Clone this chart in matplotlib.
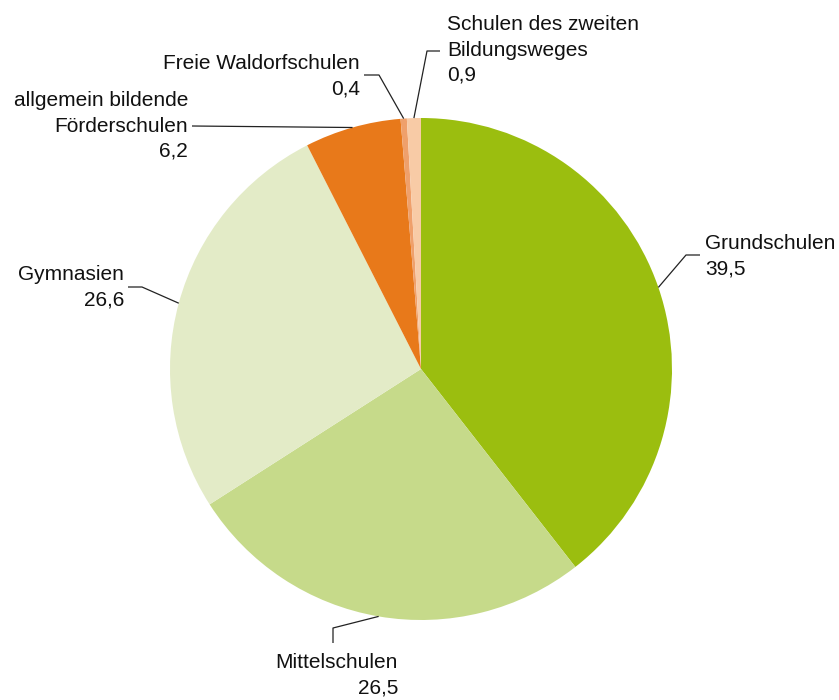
import numpy as np
import matplotlib
matplotlib.use("Agg")
import matplotlib.pyplot as plt

plt.rcParams['font.family'] = ['Liberation Sans', 'DejaVu Sans']

# Anteile in Prozent
labels = ["Grundschulen", "Mittelschulen", "Gymnasien",
          "allgemein bildende\nFörderschulen", "Freie Waldorfschulen",
          "Schulen des zweiten\nBildungsweges"]
values = [39.5, 26.5, 26.6, 6.2, 0.4, 0.9]
value_text = ["39,5", "26,5", "26,6", "6,2", "0,4", "0,9"]
colors = ["#9bbe0f", "#c6da8a", "#e3ebc7", "#e8791a", "#efa06b", "#f8cba6"]

W, H = 839, 700
fig = plt.figure(figsize=(W / 100, H / 100), dpi=100)
ax = fig.add_axes([0, 0, 1, 1])

cx, cy, r = 421, H - 369, 251
wedges, _ = ax.pie(values, colors=colors, startangle=90, counterclock=False,
                   center=(cx, cy), radius=r, frame=True,
                   wedgeprops=dict(linewidth=0))
ax.set_xlim(0, W)
ax.set_ylim(0, H)
ax.set_aspect("equal")
ax.axis("off")

# Beschriftung: (Textpunkt, Ausrichtung, Knickpunkte der Linie) in Pixeln von oben
layout = [
    ((705, 256), "left", [(686, 255), (700, 255)]),
    ((398, 675), "right", [(333, 628), (333, 643)]),
    ((124, 287), "right", [(142, 287), (128, 287)]),
    ((188, 126), "right", [(192, 126)]),
    ((360, 76), "right", [(379, 75), (364, 75)]),
    ((447, 50), "left", [(427, 51), (440, 51)]),
]

for w, lab, val, (pos, ha, pts) in zip(wedges, labels, value_text, layout):
    ang = np.deg2rad((w.theta1 + w.theta2) / 2)
    x0 = cx + r * np.cos(ang)
    y0 = cy + r * np.sin(ang)
    xs = [x0] + [p[0] for p in pts]
    ys = [y0] + [H - p[1] for p in pts]
    ax.plot(xs, ys, color="#222222", lw=0.9, solid_capstyle="butt")
    ax.text(pos[0], H - pos[1], lab + "\n" + val, ha=ha, va="center",
            multialignment=ha, fontsize=15, linespacing=1.43, color="#111111")

fig.savefig("out.png", dpi=100)
